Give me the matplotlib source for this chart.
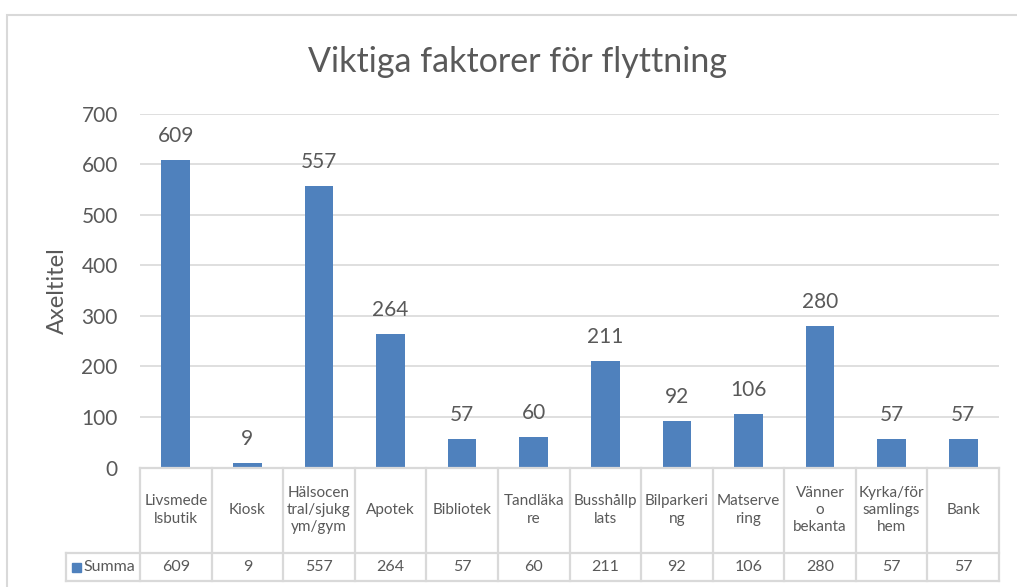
import matplotlib
matplotlib.use("Agg")
import matplotlib.pyplot as plt
import matplotlib.transforms as mtransforms
from matplotlib.patches import Rectangle
from matplotlib.lines import Line2D

# data
categories = ["Livsmede\nlsbutik", "Kiosk", "Hälsocen\ntral/sjukg\nym/gym", "Apotek",
              "Bibliotek", "Tandläka\nre", "Busshållp\nlats", "Bilparkeri\nng",
              "Matserve\nring", "Vänner\no\nbekanta", "Kyrka/för\nsamlings\nhem", "Bank"]
values = [609, 9, 557, 264, 57, 60, 211, 92, 106, 280, 57, 57]
series_name = "Summa"
title = "Viktiga faktorer för flyttning"
y_label = "Axeltitel"
y_ticks = [0, 100, 200, 300, 400, 500, 600, 700]

plt.rcParams['font.family'] = ['Lato', 'DejaVu Sans']

BLUE = "#4F81BD"
TEXT = "#595959"
GRID = "#D9D9D9"

W, H = 1017, 587
fig = plt.figure(figsize=(W / 100, H / 100), dpi=100)


def fx(px):
    return px / W


def fy(py):
    return 1 - py / H


# chart border
fig.add_artist(Rectangle((fx(7), fy(600)), fx(1030) - fx(7), fy(15) - fy(600),
                         transform=fig.transFigure, fill=False, edgecolor=GRID, lw=1.5))

ax = fig.add_axes([fx(140), fy(467.5), fx(999) - fx(140), fy(113.7) - fy(467.5)])
x = list(range(len(values)))
ax.bar(x, values, width=0.4, color=BLUE, zorder=3)
ax.set_xlim(-0.5, len(values) - 0.5)
ax.set_ylim(0, 700)
ax.set_yticks(y_ticks)
ax.set_xticks([])
ax.tick_params(axis='y', length=0, pad=16, labelsize=15, labelcolor=TEXT)
ax.grid(axis='y', color=GRID, lw=1.2, zorder=0)
for s in ax.spines.values():
    s.set_visible(False)
ax.set_ylabel(y_label, fontsize=17, color=TEXT, labelpad=10)

for xi, v in zip(x, values):
    ax.annotate(str(v), (xi, v), xytext=(0, 10), textcoords='offset points',
                ha='center', va='bottom', fontsize=15, color=TEXT)

fig.text(fx(517), fy(62), title, ha='center', va='center', fontsize=24.5, color=TEXT)

# data table below the axis
tr = mtransforms.blended_transform_factory(ax.transData, fig.transFigure)
x_left_legend = -0.5 - (140 - 65.7) / ((999 - 140) / len(values))
y_top, y_mid, y_bot = fy(468), fy(553), fy(581)
lw = 1.6
fig.add_artist(Line2D([-0.5, len(values) - 0.5], [y_top, y_top], transform=tr, color=GRID, lw=lw))
for yy in (y_mid, y_bot):
    fig.add_artist(Line2D([x_left_legend, len(values) - 0.5], [yy, yy], transform=tr, color=GRID, lw=lw))
fig.add_artist(Line2D([x_left_legend, x_left_legend], [y_mid, y_bot], transform=tr, color=GRID, lw=lw))
for i in range(len(values) + 1):
    xb = i - 0.5
    fig.add_artist(Line2D([xb, xb], [y_top, y_bot], transform=tr, color=GRID, lw=lw))

for xi, cat, v in zip(x, categories, values):
    fig.text(xi, fy(510), cat, transform=tr, ha='center', va='center',
             fontsize=11, color=TEXT, linespacing=1.3)
    fig.text(xi, fy(567), str(v), transform=tr, ha='center', va='center',
             fontsize=11.5, color=TEXT)

# legend key in the table
fig.add_artist(Rectangle((fx(72), fy(572)), fx(9), fy(563) - fy(572),
                         transform=fig.transFigure, color=BLUE))
fig.text(fx(83), fy(567), series_name, ha='left', va='center', fontsize=11.5, color=TEXT)

fig.savefig("out.png", dpi=100)
